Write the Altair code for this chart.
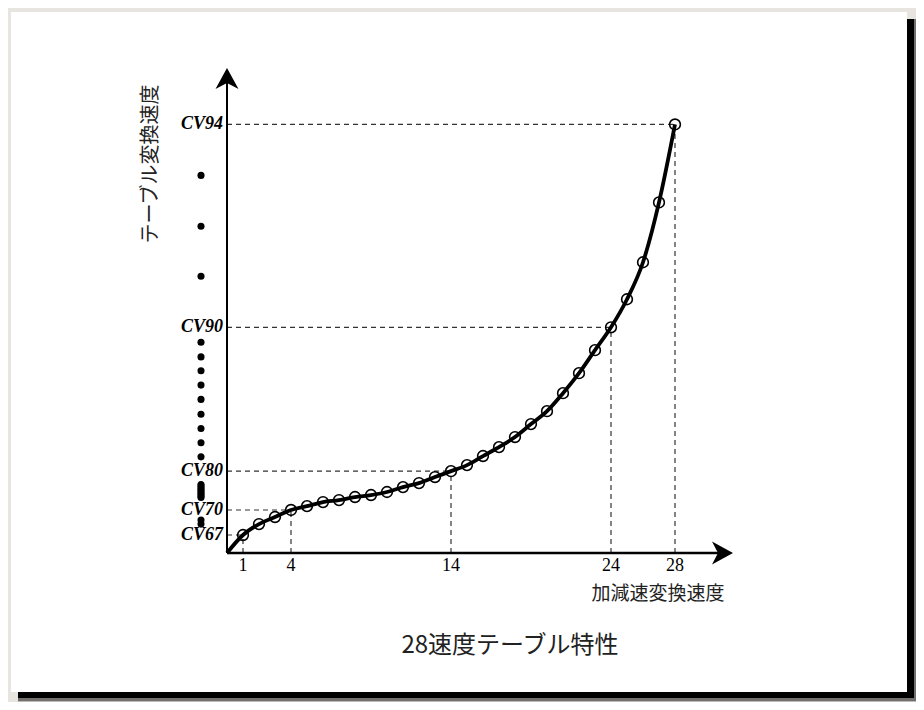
import altair as alt
import pandas as pd

# ---- data ----
steps = list(range(1, 29))
speed_values = [10.7, 17.2, 21.4, 25.6, 27.9, 30.3, 31.5, 33.3, 34.5, 36.3,
                39.2, 41.6, 45.2, 48.7, 52.3, 57.7, 63.0, 69.0, 76.7, 84.4,
                95.1, 107.0, 120.7, 134.3, 151.0, 173.0, 208.6, 255.0]
key_steps = [1, 4, 14, 24, 28]
key_labels = ["CV67", "CV70", "CV80", "CV90", "CV94"]
x_tick_labels = ["1", "4", "14", "24", "28"]
# schematic ellipsis dots standing for the unlabeled CVs
ellipsis_values = [224.7, 194.4, 164.7,
                   125.4, 116.7, 108.4, 99.9, 91.4, 82.6, 74.1, 65.6, 57.2,
                   40.7, 39.8, 38.8, 37.8, 36.9, 35.9, 34.9, 33.9, 33.0,
                   19.6, 17.2]
title_text = "28速度テーブル特性"
x_title = "加減速変換速度"
y_title = "テーブル変換速度"

# ---- tables ----
curve = pd.DataFrame({"step": [0] + steps, "val": [0.0] + speed_values})
pts = pd.DataFrame({"step": steps, "val": speed_values})
lookup = dict(zip(steps, speed_values))
key = pd.DataFrame({"step": key_steps,
                    "val": [lookup[s] for s in key_steps],
                    "zero": [0] * len(key_steps),
                    "label": key_labels,
                    "tick": x_tick_labels})
dots = pd.DataFrame({"val": ellipsis_values})
one = pd.DataFrame({"a": [0]})

W, H = 480, 484
xs = alt.Scale(domain=[0, 30], nice=False, zero=False)
ys = alt.Scale(domain=[0, 288], nice=False, zero=False)

SERIF = "Liberation Serif"
CJK = "Noto Sans CJK JP"


def box(x1, x2, y1, y2, color, opacity=1.0):
    return alt.Chart(one).mark_rect(color=color, opacity=opacity).encode(
        x=alt.value(x1), x2=alt.value(x2), y=alt.value(y1), y2=alt.value(y2))


shadow3 = box(-209, 693, -50, 635, "black", 0.18)
shadow2 = box(-209, 690, -50, 632, "black", 0.4)
shadow1 = box(-209, 687, -50, 629, "black", 1.0)
paper = box(-216, 680, -57, 623, "white", 1.0)

dash = [5, 4]
hlines = alt.Chart(key).mark_rule(color="#333", strokeWidth=1.2, strokeDash=dash).encode(
    x=alt.X("zero:Q", scale=xs, axis=None), x2="step:Q",
    y=alt.Y("val:Q", scale=ys, axis=None))
vlines = alt.Chart(key).mark_rule(color="#333", strokeWidth=1.2, strokeDash=dash).encode(
    x=alt.X("step:Q", scale=xs, axis=None),
    y=alt.Y("zero:Q", scale=ys, axis=None), y2="val:Q")

line = alt.Chart(curve).mark_line(color="black", strokeWidth=3.8, interpolate="monotone").encode(
    x=alt.X("step:Q", scale=xs, axis=None),
    y=alt.Y("val:Q", scale=ys, axis=None))

circles = alt.Chart(pts).mark_point(shape="circle", filled=False, size=115,
                                    color="black", strokeWidth=1.6, opacity=1).encode(
    x=alt.X("step:Q", scale=xs, axis=None),
    y=alt.Y("val:Q", scale=ys, axis=None))

yaxis = alt.Chart(one).mark_rule(color="black", strokeWidth=2).encode(
    x=alt.value(0), y=alt.value(H), y2=alt.value(12))
xaxis = alt.Chart(one).mark_rule(color="black", strokeWidth=2.6).encode(
    x=alt.value(0), x2=alt.value(492), y=alt.value(H))

up_arrow = alt.Chart(one).mark_point(
    shape="M0,0 L0.96,1.75 L0,1.25 L-0.96,1.75 Z", filled=True, size=576,
    color="black", opacity=1).encode(x=alt.value(0), y=alt.value(-1))
right_arrow = alt.Chart(one).mark_point(
    shape="M0,0 L-1.75,-0.96 L-1.25,0 L-1.75,0.96 Z", filled=True, size=576,
    color="black", opacity=1).encode(x=alt.value(506), y=alt.value(H))

ylabels = alt.Chart(key).mark_text(font=SERIF, fontSize=18, fontStyle="italic",
                                   fontWeight="bold", align="right",
                                   baseline="middle", color="black").encode(
    x=alt.value(-4), y=alt.Y("val:Q", scale=ys, axis=None), text="label:N")

xlabels = alt.Chart(key).mark_text(font=SERIF, fontSize=18, align="center",
                                   baseline="alphabetic", color="black").encode(
    x=alt.X("step:Q", scale=xs, axis=None), y=alt.value(H + 18), text="tick:N")

dotmarks = alt.Chart(dots).mark_circle(size=50, color="black", opacity=1).encode(
    x=alt.value(-26), y=alt.Y("val:Q", scale=ys, axis=None))

xt = alt.Chart(one).mark_text(text=x_title, font=CJK, fontSize=19, color="#222",
                              align="center", baseline="middle").encode(
    x=alt.value(431), y=alt.value(525))
yt = alt.Chart(one).mark_text(text=y_title, font=CJK, fontSize=20, color="#222",
                              align="center", baseline="middle", angle=270).encode(
    x=alt.value(-76), y=alt.value(95))
tt = alt.Chart(one).mark_text(text=title_text, font=CJK, fontSize=24, color="#222",
                              align="center", baseline="middle").encode(
    x=alt.value(283), y=alt.value(577))

chart = alt.layer(
    shadow3, shadow2, shadow1, paper,
    hlines, vlines, line, circles,
    yaxis, xaxis, up_arrow, right_arrow,
    ylabels, xlabels, dotmarks, xt, yt, tt,
).properties(
    width=W, height=H,
    padding={"left": 219, "top": 61, "right": 209, "bottom": 149},
    autosize=alt.AutoSizeParams(type="none"),
    background="#e8e4e0",
).configure_view(stroke=None)

chart.save("out.html", embed_options={"renderer": "svg", "actions": False})
